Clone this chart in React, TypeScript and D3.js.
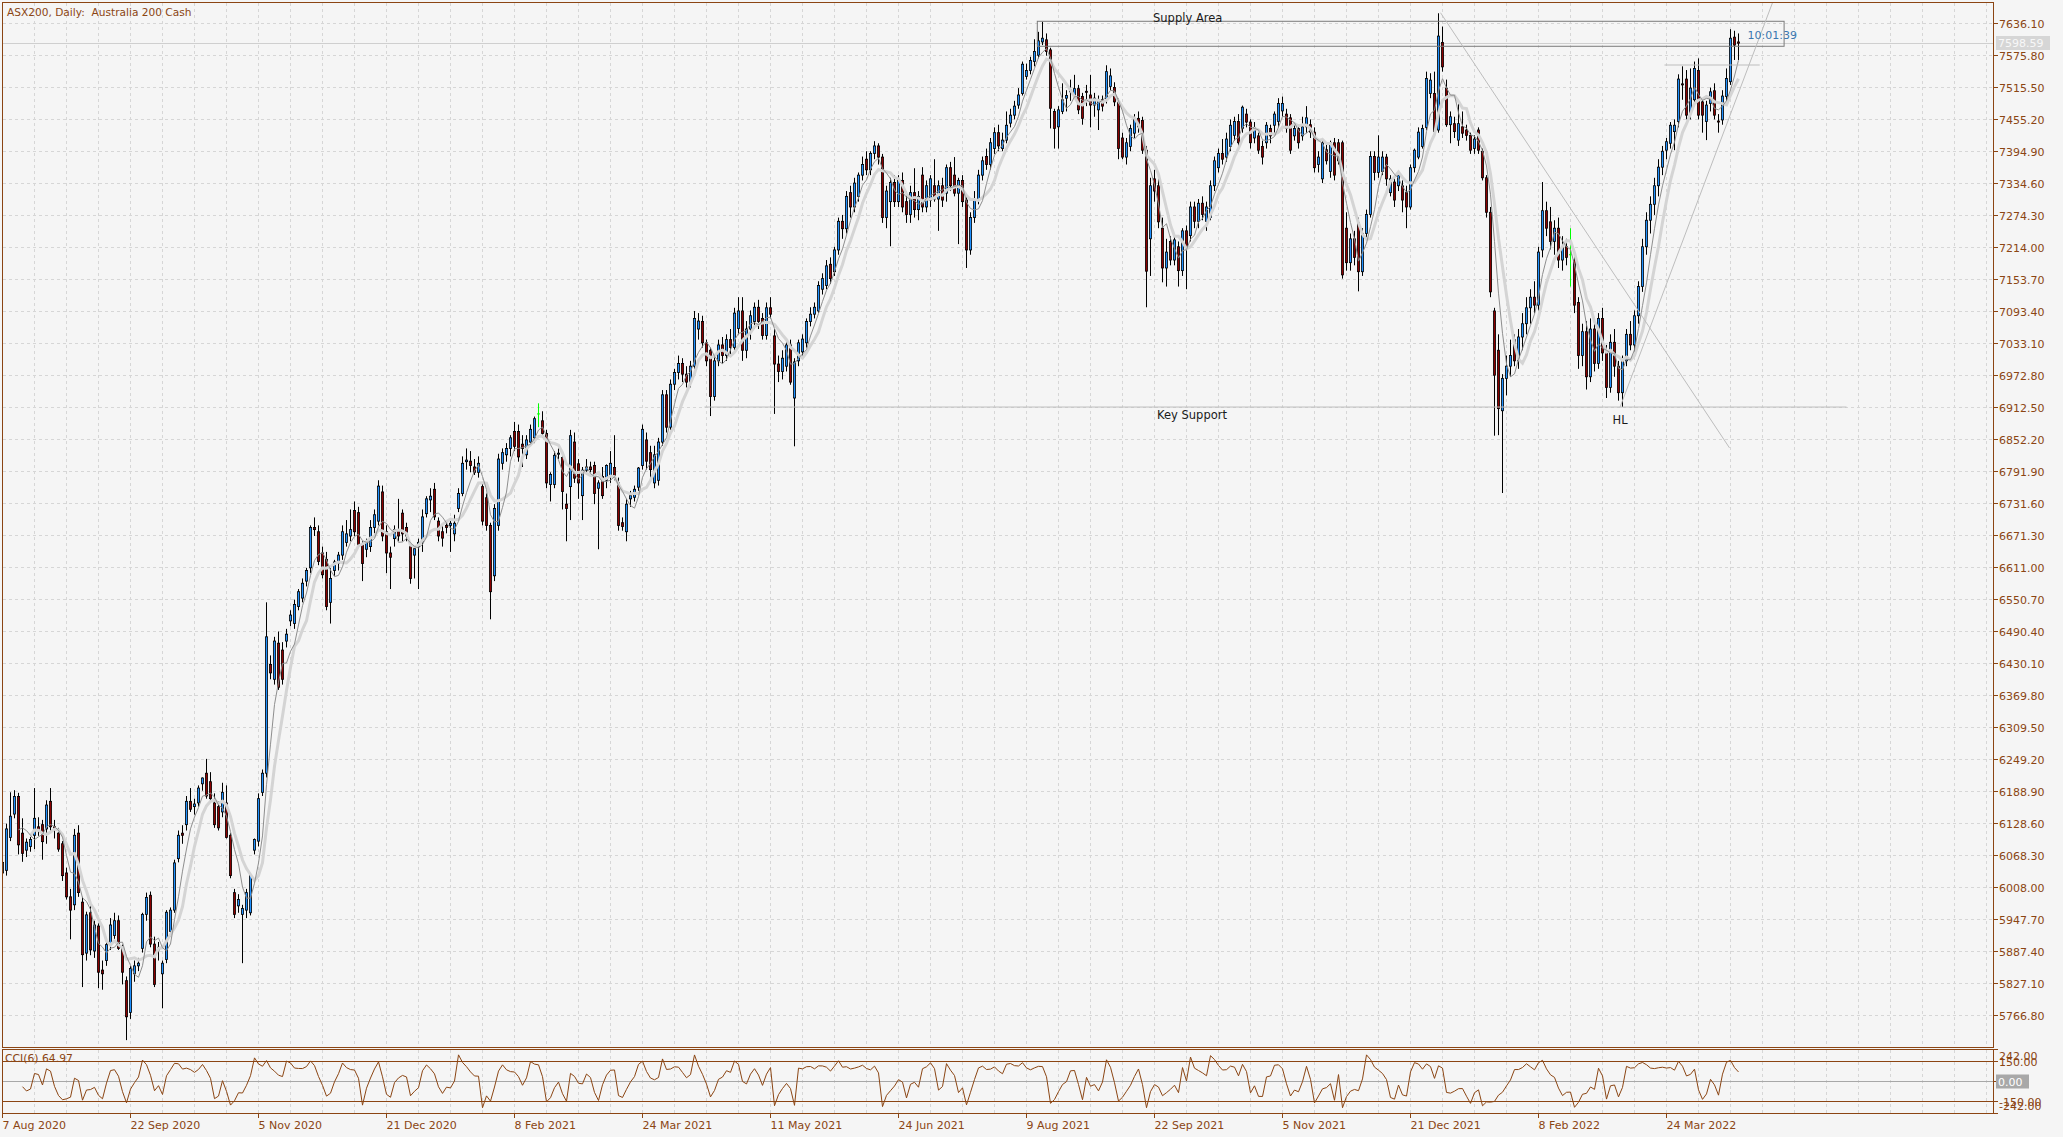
import React, { useEffect } from "react";
import * as d3 from "d3";

// ASX200 daily candles (bar 0 = 7 Aug 2020)
const opens = [
  6035,6040,6102,6146,6179,6110,6078,6085,6106,6122,
  6126,6118,6170,6122,6110,6090,6035,5990,5975,6110,
  5980,5884,5960,5888,5935,5852,5870,5900,5917,5945,
  5893,5832,5772,5845,5860,5893,5957,5993,5901,5895,
  5845,5872,5925,5965,6062,6110,6126,6170,6160,6167,
  6203,6223,6207,6167,6160,6150,6167,6106,5998,5973,
  5957,5965,5960,6078,6095,6187,6223,6428,6400,6468,
  6455,6472,6510,6505,6537,6553,6585,6610,6686,6678,
  6638,6626,6545,6605,6618,6634,6658,6670,6718,6714,
  6654,6645,6650,6686,6698,6753,6678,6638,6665,6680,
  6713,6686,6650,6634,6650,6658,6712,6738,6758,6698,
  6678,6690,6690,6674,6722,6750,6810,6811,6800,6790,
  6763,6742,6690,6595,6690,6807,6823,6835,6867,6867,
  6843,6823,6847,6855,6900,6887,6863,6767,6767,6825,
  6818,6730,6763,6847,6806,6746,6794,6800,6803,6760,
  6782,6775,6782,6799,6770,6695,6678,6740,6743,6762,
  6803,6851,6827,6770,6775,6847,6936,6875,6956,6978,
  6995,6975,6960,6990,7060,7074,7034,7020,6933,7000,
  7030,7010,7040,7025,7061,7094,7020,7060,7074,7101,
  7080,7048,7100,7047,6994,6980,6990,7030,6930,7000,
  7017,7034,7074,7088,7094,7135,7142,7182,7168,7209,
  7263,7249,7317,7290,7310,7350,7380,7360,7391,7405,
  7384,7270,7300,7336,7300,7340,7300,7276,7317,7285,
  7350,7290,7303,7330,7305,7330,7316,7364,7350,7316,
  7340,7303,7209,7270,7303,7350,7385,7370,7400,7430,
  7400,7416,7448,7463,7482,7504,7536,7547,7564,7576,
  7601,7605,7586,7470,7441,7470,7495,7507,7501,7513,
  7498,7508,7501,7482,7473,7492,7492,7517,7515,7488,
  7420,7384,7404,7429,7457,7453,7397,7230,7343,7330,
  7250,7175,7225,7190,7215,7170,7245,7236,7290,7263,
  7297,7263,7270,7330,7364,7391,7384,7404,7425,7451,
  7438,7465,7450,7420,7424,7404,7411,7438,7444,7451,
  7471,7465,7458,7424,7438,7424,7441,7445,7431,7370,
  7343,7398,7357,7411,7411,7411,7250,7185,7230,7260,
  7168,7240,7276,7385,7355,7357,7384,7317,7337,7330,
  7330,7317,7290,7364,7384,7404,7440,7504,7504,7435,
  7600,7514,7445,7447,7416,7441,7435,7425,7400,7435,
  7395,7345,7280,7094,7020,6906,6967,6990,7040,7000,
  7045,7070,7100,7120,7105,7209,7283,7262,7225,7250,
  7190,7215,7200,7190,7110,7010,7055,6970,7060,6995,
  7080,7015,6950,7035,6990,6940,7000,7050,7030,7085,
  7140,7215,7265,7295,7330,7365,7397,7410,7432,7451,
  7522,7531,7466,7492,7547,7488,7451,7485,7509,7452,
  7454,7498,7526,7610,7601,
];
const highs = [
  6065,6128,6187,6191,6186,6138,6100,6103,6195,6140,
  6135,6172,6195,6135,6120,6095,6045,6005,6118,6125,
  5990,5962,5975,5945,5940,5870,5905,5950,5960,5955,
  5900,5840,5860,5870,5875,5960,5998,6000,5915,5905,
  5870,5965,5970,6060,6115,6125,6180,6195,6175,6200,
  6215,6250,6225,6185,6170,6205,6200,6110,6005,5995,
  5975,6005,6035,6100,6185,6230,6545,6445,6480,6490,
  6470,6495,6530,6550,6570,6590,6610,6690,6705,6690,
  6650,6640,6615,6625,6640,6690,6700,6720,6735,6725,
  6660,6665,6700,6720,6775,6765,6690,6650,6690,6740,
  6720,6695,6655,6650,6665,6720,6745,6760,6770,6705,
  6690,6700,6700,6710,6760,6820,6835,6830,6815,6820,
  6770,6750,6695,6730,6825,6835,6845,6860,6885,6880,
  6860,6860,6880,6895,6920,6905,6870,6790,6830,6835,
  6825,6750,6870,6865,6815,6800,6815,6810,6810,6775,
  6800,6805,6830,6860,6780,6705,6740,6755,6765,6800,
  6880,6865,6840,6840,6855,6945,6945,6965,6985,7010,
  7005,6990,7000,7094,7090,7085,7040,7025,7010,7040,
  7045,7050,7060,7100,7120,7120,7075,7095,7110,7115,
  7090,7110,7120,7060,7010,7020,7040,7040,7005,7040,
  7050,7080,7101,7110,7150,7165,7190,7195,7215,7270,
  7275,7320,7330,7345,7355,7385,7395,7395,7414,7410,
  7390,7330,7345,7350,7350,7355,7320,7330,7363,7320,
  7365,7340,7350,7380,7340,7345,7370,7375,7384,7345,
  7350,7310,7280,7320,7360,7385,7400,7420,7440,7445,
  7430,7470,7475,7490,7514,7564,7560,7573,7606,7620,
  7639,7617,7590,7475,7480,7523,7510,7530,7539,7520,
  7505,7520,7539,7505,7500,7500,7557,7551,7525,7495,
  7430,7420,7445,7465,7470,7460,7405,7345,7360,7345,
  7270,7230,7235,7240,7225,7250,7255,7300,7300,7305,
  7310,7300,7340,7385,7400,7418,7430,7455,7460,7465,
  7481,7475,7455,7450,7430,7415,7450,7445,7470,7495,
  7498,7475,7465,7445,7445,7460,7480,7455,7440,7395,
  7420,7410,7415,7420,7418,7415,7280,7240,7245,7270,
  7250,7285,7395,7395,7425,7395,7390,7350,7345,7355,
  7340,7330,7370,7400,7440,7445,7545,7542,7545,7655,
  7630,7530,7470,7460,7485,7470,7445,7430,7425,7440,
  7400,7350,7290,7100,7050,6975,7010,7040,7050,7060,
  7090,7120,7135,7150,7215,7337,7300,7290,7265,7270,
  7235,7230,7250,7200,7120,7070,7075,7080,7070,7090,
  7100,7030,7050,7060,7000,7010,7060,7075,7095,7150,
  7230,7280,7310,7345,7380,7405,7420,7450,7455,7540,
  7555,7548,7551,7564,7570,7495,7490,7515,7523,7465,
  7510,7551,7625,7622,7617,
];
const lows = [
  6020,6030,6095,6138,6070,6056,6065,6075,6080,6105,
  6060,6090,6115,6100,6075,6020,5985,5910,5965,5990,
  5820,5870,5880,5875,5818,5815,5860,5890,5905,5890,
  5825,5720,5760,5830,5850,5885,5945,5895,5820,5870,
  5780,5865,5915,5960,6055,6090,6115,6150,6145,6160,
  6190,6175,6170,6120,6115,6140,6100,6025,5950,5960,
  5865,5950,5955,6070,6085,6180,6215,6400,6390,6380,
  6390,6460,6500,6495,6530,6545,6575,6600,6670,6615,
  6590,6530,6505,6595,6605,6625,6650,6660,6670,6650,
  6585,6630,6640,6675,6690,6660,6600,6570,6650,6660,
  6660,6660,6580,6590,6570,6640,6705,6715,6700,6660,
  6650,6675,6640,6660,6715,6745,6795,6790,6785,6780,
  6690,6680,6513,6585,6680,6795,6810,6820,6830,6810,
  6800,6815,6840,6845,6875,6855,6760,6735,6760,6815,
  6720,6660,6700,6770,6740,6700,6785,6790,6730,6645,
  6740,6760,6770,6775,6680,6680,6660,6725,6735,6755,
  6795,6795,6780,6760,6765,6840,6865,6870,6945,6965,
  6960,6950,6950,6985,7040,7025,6990,6896,6925,6990,
  6995,7000,7010,7015,7050,7000,7005,7040,7060,7060,
  7040,7040,7080,6900,6960,6965,6980,6955,6839,6990,
  7010,7025,7065,7080,7090,7125,7135,7145,7160,7200,
  7230,7240,7270,7280,7300,7340,7350,7350,7380,7370,
  7260,7250,7216,7290,7290,7280,7260,7260,7270,7265,
  7280,7280,7290,7300,7245,7290,7300,7320,7310,7220,
  7290,7175,7200,7260,7295,7340,7360,7360,7390,7395,
  7395,7410,7440,7455,7475,7500,7530,7540,7555,7570,
  7595,7575,7438,7400,7400,7465,7470,7490,7495,7465,
  7445,7480,7440,7460,7435,7470,7485,7510,7480,7380,
  7380,7370,7395,7420,7430,7390,7101,7160,7300,7250,
  7148,7140,7180,7180,7140,7160,7135,7225,7250,7250,
  7265,7245,7265,7320,7355,7370,7375,7395,7415,7400,
  7430,7440,7400,7410,7390,7370,7400,7410,7430,7440,
  7460,7430,7390,7415,7400,7415,7430,7420,7355,7355,
  7335,7370,7345,7340,7370,7155,7170,7170,7180,7131,
  7160,7230,7270,7340,7345,7350,7330,7310,7290,7320,
  7280,7250,7285,7355,7380,7400,7435,7495,7429,7430,
  7545,7441,7410,7420,7405,7420,7415,7390,7390,7390,
  7340,7270,7120,6859,6860,6751,6935,6970,6990,6985,
  7020,7050,7070,7090,7095,7195,7235,7210,7200,7175,
  7170,7180,7140,7090,6985,6990,6946,6960,6980,6985,
  7000,6930,6940,6970,6925,6913,6990,7020,7015,7070,
  7130,7200,7240,7275,7310,7350,7380,7400,7397,7440,
  7492,7455,7455,7480,7455,7430,7416,7470,7455,7430,
  7445,7490,7520,7567,7567,
];
const closes = [
  6055,6118,6142,6179,6088,6072,6093,6098,6138,6115,
  6094,6163,6122,6118,6080,6030,5990,5965,6106,5998,
  5881,5956,5890,5937,5848,5845,5900,5937,5945,5893,
  5848,5764,5855,5860,5865,5957,5989,5901,5825,5890,
  5865,5961,5965,6054,6106,6106,6170,6155,6165,6195,
  6214,6180,6175,6126,6120,6187,6102,6030,5957,5985,
  5968,5998,6030,6098,6175,6223,6480,6412,6472,6385,
  6400,6485,6521,6541,6565,6581,6605,6686,6682,6622,
  6597,6537,6590,6621,6634,6678,6674,6682,6678,6654,
  6618,6658,6686,6710,6764,6670,6638,6630,6682,6670,
  6674,6670,6590,6646,6658,6706,6740,6745,6706,6670,
  6666,6686,6694,6694,6750,6807,6813,6803,6790,6807,
  6698,6690,6565,6722,6815,6827,6835,6855,6839,6819,
  6835,6851,6871,6891,6900,6863,6770,6786,6822,6826,
  6754,6722,6859,6779,6770,6794,6800,6795,6750,6770,
  6746,6803,6807,6783,6690,6688,6730,6746,6758,6798,
  6871,6811,6795,6823,6847,6936,6875,6956,6978,6995,
  6975,6960,6990,7080,7075,7034,7000,6933,7000,7030,
  7010,7040,7025,7090,7094,7020,7060,7085,7101,7074,
  7048,7100,7088,6994,6980,7005,7030,6960,6998,7034,
  7041,7074,7088,7101,7142,7155,7179,7155,7209,7263,
  7249,7310,7290,7335,7350,7370,7360,7391,7405,7384,
  7270,7320,7336,7300,7340,7290,7276,7317,7285,7310,
  7290,7330,7343,7305,7330,7303,7364,7330,7316,7340,
  7300,7209,7270,7303,7350,7377,7370,7411,7430,7405,
  7416,7444,7463,7480,7501,7559,7547,7566,7583,7603,
  7608,7583,7476,7438,7473,7492,7500,7511,7513,7473,
  7457,7506,7482,7495,7492,7480,7545,7537,7488,7400,
  7384,7411,7438,7457,7441,7397,7169,7330,7320,7262,
  7175,7205,7190,7228,7170,7245,7215,7290,7263,7297,
  7276,7290,7330,7377,7391,7380,7418,7444,7451,7411,
  7478,7450,7411,7440,7397,7384,7444,7424,7465,7485,
  7485,7438,7397,7438,7411,7441,7458,7431,7364,7384,
  7411,7377,7411,7350,7377,7162,7185,7230,7195,7168,
  7240,7276,7385,7355,7384,7384,7343,7343,7303,7350,
  7303,7290,7364,7397,7431,7438,7532,7529,7432,7612,
  7554,7445,7460,7432,7447,7429,7425,7397,7418,7397,
  7345,7280,7130,6973,6910,6967,6990,7010,7000,7045,
  7070,7100,7120,7105,7205,7283,7250,7225,7250,7190,
  7215,7195,7200,7105,7010,7055,6970,7060,6995,7080,
  7015,6950,7035,6990,6940,7000,7050,7030,7085,7140,
  7215,7265,7295,7330,7365,7395,7413,7444,7444,7531,
  7520,7463,7514,7551,7463,7463,7482,7507,7463,7450,
  7499,7532,7608,7595,7598.59,
];

const dateTickBars = [0, 32, 64, 96, 128, 160, 192, 224, 256, 288, 320, 352, 384, 416];
const dateLabels = [
  "7 Aug 2020", "22 Sep 2020", "5 Nov 2020", "21 Dec 2020", "8 Feb 2021", "24 Mar 2021", "11 May 2021",
  "24 Jun 2021", "9 Aug 2021", "22 Sep 2021", "5 Nov 2021", "21 Dec 2021", "8 Feb 2022", "24 Mar 2022",
];
const priceTicks = [
  7636.1, 7575.8, 7515.5, 7455.2, 7394.9, 7334.6, 7274.3, 7214.0, 7153.7, 7093.4, 7033.1,
  6972.8, 6912.5, 6852.2, 6791.9, 6731.6, 6671.3, 6611.0, 6550.7, 6490.4, 6430.1, 6369.8,
  6309.5, 6249.2, 6188.9, 6128.6, 6068.3, 6008.0, 5947.7, 5887.4, 5827.1, 5766.8,
];
const cciLevels = [242, 150, 0, -150, -242];

// drawn objects (bar index, price)
const supplyArea = { from: 258.7, to: 445.4, top: 7639.9, bottom: 7592.8 };
const keySupport = { from: 175.5, to: 461, price: 6913 };
const downTrend = [[359.5, 7656], [431.75, 6836]];
const upTrend = [[404.4, 6913], [442.5, 7675]];
const resistance = { from: 415.5, to: 439.3, price: 7557.5 };
const bidPrice = 7598.59;

const FONT = "'DejaVu Sans', Verdana, sans-serif";
const BROWN = "#8B4513";
const BG = "#F5F5F5";

const sma = (arr: number[], p: number) =>
  arr.map((_, i) => (i < p - 1 ? null : d3.mean(arr.slice(i - p + 1, i + 1)) as number));

export default function App() {
  useEffect(() => {
    document.body.style.margin = "0";
    document.body.style.background = BG;
  }, []);

  const W = 2063, H = 1137;
  const L = 2, R = 1993, T = 2, MB = 1047, CT = 1049, CB = 1113;

  const x = d3.scaleLinear().domain([0, 1]).range([2.5, 6.5]);
  const y = d3.scaleLinear().domain([5766.8, 7636.1]).range([1015.3, 23.3]);
  const yc = d3.scaleLinear().domain([-242, 242]).range([1113.3, 1049.3]);

  // CCI(6)
  const tp = closes.map((c, i) => (highs[i] + lows[i] + c) / 3);
  const cci = tp.map((v, i) => {
    if (i < 5) return null;
    const win = tp.slice(i - 5, i + 1);
    const m = d3.mean(win) as number;
    const md = d3.mean(win, (w) => Math.abs(w - m)) as number;
    return md === 0 ? 0 : (v - m) / (0.015 * md);
  });

  const maFast = sma(closes, 5);
  const maSlow = sma(closes, 8);

  const lineGen = d3
    .line<[number, number | null]>()
    .defined((d) => d[1] !== null)
    .x((d) => x(d[0]))
    .y((d) => y(d[1] as number));
  const cciGen = d3
    .line<[number, number | null]>()
    .defined((d) => d[1] !== null)
    .x((d) => x(d[0]))
    .y((d) => yc(d[1] as number));

  const gridX = d3.range(1, 63).map((k) => 2.5 + 32 * k);

  return (
    <svg width={W} height={H} style={{ position: "absolute", left: 0, top: 0, display: "block" }} fontFamily={FONT}>
      <defs>
        <clipPath id="mainClip"><rect x={L + 1} y={T + 1} width={R - L - 1} height={MB - T - 1} /></clipPath>
        <clipPath id="cciClip"><rect x={L + 1} y={CT + 1} width={R - L - 1} height={CB - CT - 1} /></clipPath>
      </defs>
      <rect width={W} height={H} fill={BG} />

      {/* grid */}
      <g stroke="#D6D6D6" strokeDasharray="3,3" strokeWidth={1}>
        {gridX.map((gx) => (
          <g key={gx}>
            <line x1={gx} x2={gx} y1={T + 1} y2={MB} />
            <line x1={gx} x2={gx} y1={CT + 1} y2={CB} />
          </g>
        ))}
        {priceTicks.map((p) => (
          <line key={p} x1={L + 1} x2={R} y1={Math.round(y(p)) + 0.5} y2={Math.round(y(p)) + 0.5} />
        ))}
      </g>

      <g clipPath="url(#mainClip)">
        {/* bid line */}
        <line x1={L} x2={R} y1={Math.round(y(bidPrice)) + 0.5} y2={Math.round(y(bidPrice)) + 0.5} stroke="#CFCFCF" />

        {/* candles */}
        {closes.map((c, i) => {
          const o = opens[i];
          const cx = x(i);
          const doji = o === c;
          const col = doji ? "#00FF00" : c > o ? "#1E90FF" : "#8B0000";
          const top = y(Math.max(o, c));
          const h = Math.max(1, Math.abs(y(o) - y(c)));
          return (
            <g key={i}>
              <line x1={cx} x2={cx} y1={y(highs[i])} y2={y(lows[i])} stroke={doji ? "#00FF00" : "#000"} strokeWidth={1} />
              {doji ? (
                <line x1={cx - 1.5} x2={cx + 1.5} y1={top} y2={top} stroke="#00FF00" />
              ) : (
                <rect x={cx - 1.1} y={top} width={2.2} height={h} fill={col} stroke="#000" strokeWidth={0.8} />
              )}
            </g>
          );
        })}

        {/* moving averages */}
        <path d={lineGen(maSlow.map((v, i) => [i, v] as [number, number | null])) || ""} fill="none" stroke="#D4D4D4" strokeWidth={3} />
        <path d={lineGen(maFast.map((v, i) => [i, v] as [number, number | null])) || ""} fill="none" stroke="#8E8E8E" strokeWidth={1} />

        {/* objects */}
        <rect
          x={x(supplyArea.from)}
          y={y(supplyArea.top)}
          width={x(supplyArea.to) - x(supplyArea.from)}
          height={y(supplyArea.bottom) - y(supplyArea.top)}
          fill="none"
          stroke="#7A7A7A"
          strokeWidth={1}
        />
        <line x1={x(keySupport.from)} x2={x(keySupport.to)} y1={y(keySupport.price)} y2={y(keySupport.price)} stroke="#BDBDBD" />
        <line x1={x(resistance.from)} x2={x(resistance.to)} y1={y(resistance.price)} y2={y(resistance.price)} stroke="#BDBDBD" />
        <line x1={x(downTrend[0][0])} y1={y(downTrend[0][1])} x2={x(downTrend[1][0])} y2={y(downTrend[1][1])} stroke="#BDBDBD" />
        <line x1={x(upTrend[0][0])} y1={y(upTrend[0][1])} x2={x(upTrend[1][0])} y2={y(upTrend[1][1])} stroke="#BDBDBD" />

        <text x={(x(supplyArea.from) + x(supplyArea.to)) / 2 - 223} y={y(supplyArea.top) + 1} fontSize={11.5} fill="#1A1A1A" textAnchor="middle">Supply Area</text>
        <text x={1192} y={y(keySupport.price) + 12} fontSize={11.5} fill="#1A1A1A" textAnchor="middle">Key Support</text>
        <text x={x(upTrend[0][0])} y={y(upTrend[0][1]) + 17} fontSize={11.5} fill="#1A1A1A" textAnchor="middle">HL</text>
        <text x={x(closes.length - 1) + 9} y={y(bidPrice) - 4} fontSize={11} fill="#3A78B0">10:01:39</text>
      </g>

      {/* CCI */}
      <g clipPath="url(#cciClip)">
        <line x1={L} x2={R} y1={Math.round(yc(0)) + 0.5} y2={Math.round(yc(0)) + 0.5} stroke="#A8A8A8" />
        <line x1={L} x2={R} y1={Math.round(yc(150)) + 0.5} y2={Math.round(yc(150)) + 0.5} stroke={BROWN} />
        <line x1={L} x2={R} y1={Math.round(yc(-150)) + 0.5} y2={Math.round(yc(-150)) + 0.5} stroke={BROWN} />
        <path d={cciGen(cci.map((v, i) => [i, v] as [number, number | null])) || ""} fill="none" stroke={BROWN} strokeWidth={1} />
      </g>

      {/* frames */}
      <g fill="none" stroke={BROWN} strokeWidth={1}>
        <rect x={L + 0.5} y={T + 0.5} width={R - L} height={MB - T} />
        <rect x={L + 0.5} y={CT + 0.5} width={R - L} height={CB - CT} />
      </g>

      <text x={7} y={16} fontSize={10.6} fill={BROWN} style={{ whiteSpace: "pre" }}>{"ASX200, Daily:  Australia 200 Cash"}</text>
      <text x={5} y={1062} fontSize={10.8} fill={BROWN}>CCI(6) 64.97</text>

      {/* price axis */}
      <g fontSize={11} fill={BROWN}>
        {priceTicks.map((p) => {
          const py = Math.round(y(p)) + 0.5;
          return (
            <g key={p}>
              <line x1={R} x2={R + 5} y1={py} y2={py} stroke={BROWN} />
              <text x={R + 6} y={py + 4}>{p.toFixed(2)}</text>
            </g>
          );
        })}
      </g>
      <rect x={1996} y={36} width={54} height={14} fill="#D6D6D6" />
      <text x={1998} y={47} fontSize={11} fill="#F8F8F8">{bidPrice.toFixed(2)}</text>

      {/* CCI axis */}
      <g fontSize={11} fill={BROWN}>
        {cciLevels.map((v) => {
          const py = Math.round(yc(v)) + 0.5;
          const ty = v === 242 ? py + 10 : v === -242 ? py - 4 : py + 4;
          return (
            <g key={v}>
              <line x1={R} x2={R + 5} y1={py} y2={py} stroke={BROWN} />
              {v === 0 ? (
                <>
                  <rect x={1996} y={py - 7} width={33} height={14} fill="#A8A8A8" />
                  <text x={1998} y={ty} fill="#FFFFFF">0.00</text>
                </>
              ) : (
                <text x={R + 6} y={ty}>{v.toFixed(2)}</text>
              )}
            </g>
          );
        })}
      </g>

      {/* date axis */}
      <g fontSize={11} fill={BROWN}>
        {dateTickBars.map((b, k) => {
          const tx = Math.round(x(b)) - 0.5;
          return (
            <g key={b}>
              <line x1={tx} x2={tx} y1={CB} y2={CB + 5} stroke={BROWN} />
              <text x={tx} y={1129}>{dateLabels[k]}</text>
            </g>
          );
        })}
      </g>
    </svg>
  );
}
